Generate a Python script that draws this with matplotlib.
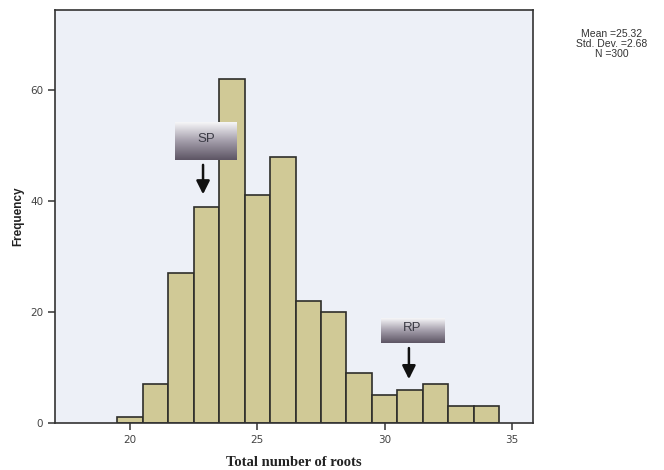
import matplotlib
matplotlib.use("Agg")
import matplotlib.pyplot as plt
import numpy as np
from matplotlib.colors import LinearSegmentedColormap

# Data
bin_centers = [20, 21, 22, 23, 24, 25, 26, 27, 28, 29, 30, 31, 32, 33, 34]
frequencies = [1, 7, 27, 39, 62, 41, 48, 22, 20, 9, 5, 6, 7, 3, 3]
x_ticks = [20, 25, 30, 35]
y_ticks = [0, 20, 40, 60]
stats_text = "Mean =25.32\nStd. Dev. =2.68\nN =300"
x_label = "Total number of roots"
y_label = "Frequency"
annotations = [("SP", 22.87), ("RP", 30.95)]

fig = plt.figure(figsize=(6.64, 4.70), dpi=100)
fig.patch.set_facecolor("white")
ax = fig.add_axes([55/664, 1-423/470, 478/664, 413/470])
ax.set_facecolor("#edf0f7")

ax.bar(bin_centers, frequencies, width=1.0, color="#d0c996",
       edgecolor="#2e2e2a", linewidth=1.2, zorder=2)

ax.set_xlim(17.06, 35.82)
ax.set_ylim(0, 74.4)
ax.set_xticks(x_ticks)
ax.set_yticks(y_ticks)
ax.tick_params(direction="out", length=5, width=1.1, colors="#333333",
               labelsize=7.5, labelcolor="#444444")
for s in ax.spines.values():
    s.set_color("#333333")
    s.set_linewidth(1.2)

ax.set_xlabel(x_label, family="Liberation Serif", fontweight="bold",
              fontsize=10.5, color="#222222", labelpad=8)
ax.set_ylabel(y_label, family="Liberation Sans", fontweight="bold",
              fontsize=8.5, color="#222222", labelpad=4)

# Gradient label boxes with arrows
grad = np.linspace(0, 1, 100).reshape(-1, 1)
cmap = LinearSegmentedColormap.from_list("g", ["#f6f6f8", "#a39daa", "#5d5564"])
boxes = {
    "SP": dict(x0=21.77, x1=24.2, y0=47.4, y1=54.2, tip=40.7, start=47.0),
    "RP": dict(x0=29.85, x1=32.33, y0=14.4, y1=18.9, tip=7.4, start=14.0),
}
for name, ax_x in annotations:
    b = boxes[name]
    ax.imshow(grad, extent=(b["x0"], b["x1"], b["y0"], b["y1"]), cmap=cmap,
              aspect="auto", origin="upper", zorder=4)
    ax.text((b["x0"] + b["x1"]) / 2, (b["y0"] + b["y1"]) / 2 + 0.4, name,
            ha="center", va="center", fontsize=9.5, color="#3a3a44",
            family="Liberation Sans", zorder=5)
    ax.annotate("", xy=(ax_x, b["tip"]), xytext=(ax_x, b["start"]),
                arrowprops=dict(arrowstyle="-|>,head_length=0.8,head_width=0.4",
                                color="#111111", lw=1.8), zorder=5)
ax.set_xlim(17.06, 35.82)
ax.set_ylim(0, 74.4)

fig.text(612/664, 1-44/470, stats_text, ha="center", va="center",
         fontsize=7.5, color="#333333", family="Liberation Sans", linespacing=1.0)

fig.savefig("out.png", dpi=100)
